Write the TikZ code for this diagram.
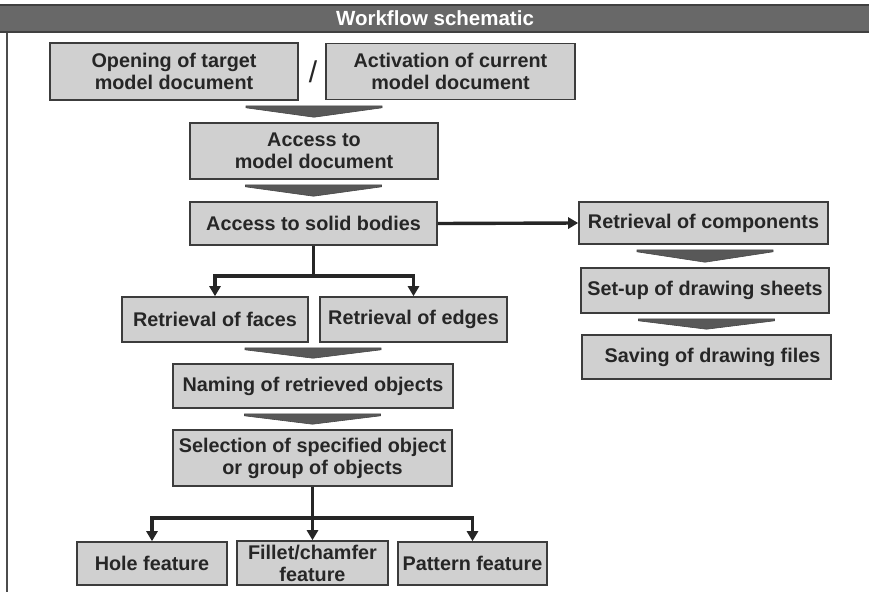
\documentclass[tikz,border=0pt]{standalone}
\usepackage{fontspec}
\setmainfont{Liberation Sans}
\usepackage{xcolor}
\usepackage{tikz}
\usetikzlibrary{shapes,arrows,positioning,fit,calc,arrows.meta}

\definecolor{boxfill}{HTML}{D0D0D0}
\definecolor{boxline}{HTML}{3C3C3C}
\definecolor{chevfill}{HTML}{585858}
\definecolor{barfill}{HTML}{686868}

% chevron between an upper and a lower box, centred on the lower one
\newcommand{\chev}[2]{%
  \path[chevstyle] let \p1=(#1.south), \p2=(#2.north) in
    (\x2-68pt,\y1-5pt) -- (\x2+68pt,\y1-5pt) -- (\x2+68pt,\y1-7pt)
    -- (\x2,\y2+5pt) -- (\x2-68pt,\y1-7pt) -- cycle;}

\begin{document}
\begin{tikzpicture}[
    x=1pt, y=-1pt,
    stepbox/.style={draw=boxline, fill=boxfill, line width=1.6pt, inner sep=0pt, align=center,
                    text=black!85, font=\bfseries\fontsize{19.8}{22}\selectfont},
    box/.style 2 args={stepbox, minimum width=#1pt, minimum height=#2pt},
    chevstyle/.style={fill=chevfill, draw=chevfill!80!black, line width=0.6pt},
    flow/.style={-{Triangle[length=10pt,width=11pt]}, line width=3.4pt, black!85}
]
\useasboundingbox (0,0) rectangle (869,592);

% frame and title bar
\draw[line width=1.6pt, black!70] (7,32) -- (7,592);
\node[fill=barfill, draw=black!75, line width=1.6pt, minimum width=872pt, minimum height=27pt,
      text=white, font=\bfseries\fontsize{20.5}{22}\selectfont] (title) at (435,18.5) {Workflow schematic};

% main column
\node[box={248}{57}] (open)   at (174,71.5)   {Opening of target\\model document};
\node[font=\fontsize{30}{30}\selectfont, text=black!85] (slash) at (313,72) {/};
\node[box={249}{56}] (activ)  at (450.5,71.5) {Activation of current\\model document};
\node[box={248}{56}] (access) at (314,151)    {Access to\\model document};
\node[box={247}{43}] (solid)  at (313.5,223.5){Access to solid bodies};
\node[box={186}{45}] (faces)  at (215,319.5)  {Retrieval of faces};
\node[box={187}{45}] (edges)  at (413.5,319.5){Retrieval of edges};
\node[box={280}{44}] (naming) at (313,386)    {Naming of retrieved objects};
\node[box={279}{56}] (select) at (312.5,458)  {Selection of specified object\\or group of objects};
\node[box={150}{43}] (hole)   at (152,563.5)  {Hole feature};
\node[box={151}{44}] (fillet) at (312.5,563)  {Fillet/chamfer\\feature};
\node[box={149}{43}] (pattern)at (472.5,563.5){Pattern feature};

% right column
\node[box={249}{42}] (comps)  at (703.5,223)  {Retrieval of components};
\node[box={248}{45}] (sheets) at (705,290.5)  {Set-up of drawing sheets};
\node[box={249}{44}] (saving) at (706.5,357)  {\hspace*{12pt}Saving of drawing files};

% chevrons
\chev{open}{access}
\chev{access}{solid}
\chev{faces}{naming}
\chev{naming}{select}
\chev{comps}{sheets}
\chev{sheets}{saving}

% arrows
\draw[flow] (solid.east) -- (comps.west);
\draw[flow] (solid.south) -- ++(0,30) -| (faces.north);
\draw[flow] (solid.south) -- ++(0,30) -| (edges.north);
\draw[flow] (select.south) -- ++(0,31) -| (hole.north);
\draw[flow] (select.south) -- (fillet.north);
\draw[flow] (select.south) -- ++(0,31) -| (pattern.north);
\end{tikzpicture}
\end{document}
